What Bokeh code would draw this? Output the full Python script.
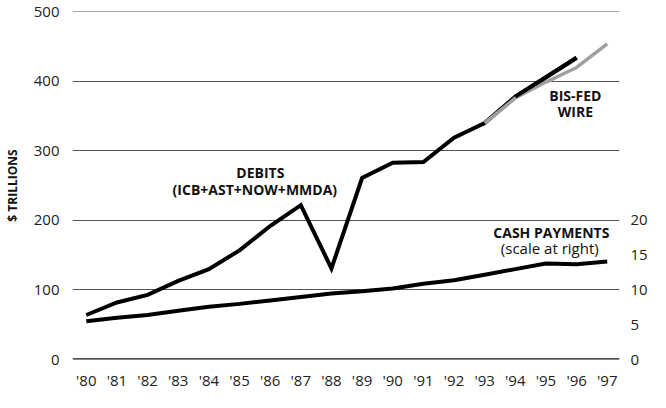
from bokeh.plotting import figure
from bokeh.models import Range1d, LinearAxis, FixedTicker, Span, Label, CustomJSTickFormatter
from bokeh.embed import file_html
from bokeh.resources import INLINE

years = list(range(1980, 1998))

debit_years = list(range(1980, 1997))
debits = [64, 82, 93, 113, 130, 157, 192, 222, 131, 261, 283, 284, 319, 340, 378, 406, 434]

wire_years = [1993, 1994, 1995, 1996, 1997]
wire = [340, 376, 399, 420, 454]

cash = [5.5, 6.0, 6.4, 7.0, 7.6, 8.0, 8.5, 9.0, 9.5, 9.8, 10.2, 10.9, 11.4, 12.2, 13.0, 13.8, 13.7, 14.1]

left_ticks = [0, 100, 200, 300, 400, 500]
right_ticks = [0, 5, 10, 15, 20]

FONT = "Open Sans"

p = figure(width=650, height=392, output_backend="svg", toolbar_location=None,
           x_range=Range1d(1979.55, 1997.4), y_range=Range1d(0, 500.5),
           min_border_left=62, min_border_right=0, min_border_top=11, min_border_bottom=28)
p.outline_line_color = None
p.background_fill_color = "white"
p.border_fill_color = "white"

p.extra_y_ranges = {"cash": Range1d(0, 50.05)}

p.xaxis.ticker = FixedTicker(ticks=years)
p.xaxis.formatter = CustomJSTickFormatter(code="return \"'\" + String(tick).slice(2);")
p.xaxis.axis_line_color = None
p.xaxis.major_tick_line_color = None
p.xaxis.minor_tick_line_color = None
p.xaxis.major_label_text_font = FONT
p.xaxis.major_label_text_font_size = "15px"
p.xaxis.major_label_text_color = "#222222"
p.xaxis.major_label_standoff = 4

p.yaxis.ticker = FixedTicker(ticks=left_ticks)
p.yaxis.axis_line_color = None
p.yaxis.major_tick_line_color = None
p.yaxis.minor_tick_line_color = None
p.yaxis.major_label_text_font = FONT
p.yaxis.major_label_text_font_size = "15px"
p.yaxis.major_label_text_color = "#222222"
p.yaxis.major_label_standoff = 7
p.yaxis.axis_label = "$ TRILLIONS"
p.yaxis.axis_label_text_font = FONT
p.yaxis.axis_label_text_font_style = "bold"
p.yaxis.axis_label_text_font_size = "12px"
p.yaxis.axis_label_text_color = "#111111"
p.yaxis.axis_label_standoff = 10

raxis = LinearAxis(y_range_name="cash", ticker=FixedTicker(ticks=right_ticks))
raxis.axis_line_color = None
raxis.major_tick_line_color = None
raxis.minor_tick_line_color = None
raxis.major_label_text_font = FONT
raxis.major_label_text_font_size = "15px"
raxis.major_label_text_color = "#222222"
raxis.major_label_standoff = 5
p.add_layout(raxis, "right")

p.xgrid.grid_line_color = None
p.ygrid.ticker = FixedTicker(ticks=[100, 200, 300, 400, 500])
p.ygrid.grid_line_color = "#555555"
p.ygrid.grid_line_width = 1.2

p.add_layout(Span(location=0, dimension="width", line_color="#111111", line_width=2.5))

p.line(years, cash, y_range_name="cash", line_color="black", line_width=4, line_join="round")
p.line(debit_years, debits, line_color="black", line_width=4, line_join="miter")
p.line(wire_years, wire, line_color="#a0a0a0", line_width=3.5, line_join="round")
p.line(debit_years[14:], debits[14:], line_color="black", line_width=4)

def lab(x, y, t, bold=True, size="14px", align="center"):
    p.add_layout(Label(x=x, y=y, text=t, text_font=FONT, text_font_size=size,
                       text_font_style="bold" if bold else "normal",
                       text_align=align, text_baseline="middle", text_color="#111111"))

lab(1985.68, 269, "DEBITS")
lab(1985.5, 245, "(ICB+AST+NOW+MMDA)")
lab(1995.96, 379, "BIS-FED")
lab(1995.96, 357, "WIRE")
lab(1997.07, 183, "CASH PAYMENTS", align="right")
lab(1996.72, 161, "(scale at right)", bold=False, size="15px", align="right")

open("out.html", "w").write(file_html(p, INLINE))
